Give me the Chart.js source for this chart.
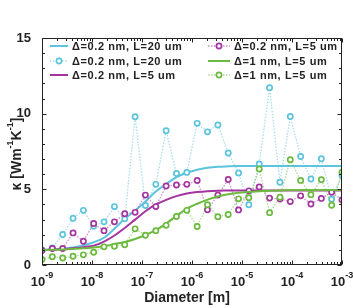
<!DOCTYPE html>
<html>
<head>
<meta charset="utf-8">
<script src="https://cdn.jsdelivr.net/npm/chart.js@4/dist/chart.umd.min.js"></script>
<style>
  html, body { margin: 0; padding: 0; background: #fff; }
</style>
</head>
<body>
<canvas id="myChart" width="353" height="308"></canvas>
<script>
// diameter of the sample points [m] (30 points from 1e-9 to 1e-3)
const diameters = [1.00e-9, 1.61e-9, 2.59e-9, 4.18e-9, 6.72e-9, 1.08e-8, 1.74e-8, 2.81e-8, 4.52e-8, 7.28e-8,
                   1.17e-7, 1.89e-7, 3.04e-7, 4.89e-7, 7.88e-7, 1.27e-6, 2.04e-6, 3.29e-6, 5.30e-6, 8.53e-6,
                   1.37e-5, 2.21e-5, 3.56e-5, 5.74e-5, 9.24e-5, 1.49e-4, 2.39e-4, 3.86e-4, 6.21e-4, 1.00e-3];

// smooth curves
const cyanFit    = [1.00, 1.03, 1.08, 1.16, 1.30, 1.50, 1.80, 2.40, 3.05, 3.60, 4.20, 4.85, 5.35, 5.80, 6.10,
                    6.30, 6.42, 6.49, 6.52, 6.54, 6.55, 6.55, 6.55, 6.55, 6.55, 6.55, 6.55, 6.55, 6.55, 6.55];
const magentaFit = [0.98, 1.00, 1.04, 1.10, 1.18, 1.28, 1.55, 1.95, 2.45, 3.00, 3.55, 4.00, 4.30, 4.55, 4.72,
                    4.82, 4.88, 4.91, 4.92, 4.93, 4.93, 4.93, 4.93, 4.93, 4.93, 4.93, 4.93, 4.93, 4.93, 4.93];
const greenFit   = [0.98, 1.00, 1.02, 1.05, 1.10, 1.15, 1.25, 1.38, 1.52, 1.72, 1.98, 2.30, 2.75, 3.25, 3.72,
                    4.05, 4.32, 4.53, 4.68, 4.78, 4.83, 4.88, 4.91, 4.93, 4.95, 4.95, 4.95, 4.95, 4.95, 4.95];

// scattered points (dotted)
const cyanPts    = [1.00, 1.13, 2.02, 3.09, 3.61, 2.56, 2.85, 3.86, 3.05, 9.80, 3.93, 5.33, 8.87, 6.05, 6.12,
                    9.36, 8.80, 9.25, 7.40, 6.08, 3.98, 6.68, 11.72, 5.47, 9.81, 7.17, 5.68, 7.02, 4.35, 5.91];
const magentaPts = [0.96, 1.09, 1.09, 2.12, 1.57, 2.74, 2.27, 2.85, 3.39, 3.48, 4.62, 3.86, 5.22, 5.29, 5.33,
                    5.58, 3.65, 4.62, 5.65, 3.64, 4.90, 5.15, 4.42, 4.36, 4.19, 4.57, 4.03, 4.40, 4.80, 4.30];
const greenPts   = [0.36, 0.55, 0.46, 0.58, 0.67, 0.84, 1.20, 1.24, 1.33, 2.39, 1.97, 2.27, 2.62, 3.20, 3.61,
                    2.54, 3.98, 3.19, 3.34, 4.37, 4.45, 6.35, 3.46, 4.48, 6.95, 5.59, 4.65, 5.64, 3.95, 6.13];

const xTickExp = [-9, -8, -7, -6, -5, -4, -3];
const yTicks = [0, 5, 10, 15];

const CYAN = 'rgb(92,196,220)';
const MAGENTA = 'rgb(163,52,160)';
const GREEN = 'rgb(108,186,62)';
const FONT = "'Liberation Sans', Arial, sans-serif";
const INK = '#222';

function pairs(vals) {
  return vals.map((v, i) => ({x: diameters[i], y: v}));
}

function fitLine(label, vals, color) {
  return {
    label: label, data: pairs(vals), borderColor: color, borderWidth: 2,
    pointRadius: 0, cubicInterpolationMode: 'monotone', fill: false, dotted: false
  };
}

function dotLine(label, vals, color) {
  return {
    label: label, data: pairs(vals), borderColor: color.replace('rgb', 'rgba').replace(')', ',0.55)'),
    borderWidth: 1.3, borderDash: [1.5, 1.5], pointRadius: 2.6, pointBorderWidth: 1.7,
    pointBorderColor: color, pointBackgroundColor: '#fff', fill: false, dotted: true
  };
}

const datasets = [
  fitLine('Δ=0.2 nm, L=20 um', cyanFit, CYAN),
  dotLine('Δ=0.2 nm, L=20 um', cyanPts, CYAN),
  fitLine('Δ=0.2 nm, L=5 um', magentaFit, MAGENTA),
  dotLine('Δ=0.2 nm, L=5 um', magentaPts, MAGENTA),
  fitLine('Δ=1 nm, L=5 um', greenFit, GREEN),
  dotLine('Δ=1 nm, L=5 um', greenPts, GREEN)
];
datasets.forEach((d, i) => { d.order = 6 - i; });

// box, inward ticks, x labels with exponents, y title and legend
const decorations = {
  id: 'decorations',
  afterDraw(chart) {
    const {ctx, chartArea: a, scales: {x, y}} = chart;
    ctx.save();
    ctx.strokeStyle = INK;
    ctx.lineWidth = 1;
    const L = Math.round(a.left) + 0.5, R = Math.round(a.right) - 0.5;
    const T = Math.round(a.top) + 0.5, B = Math.round(a.bottom) - 0.5;
    ctx.strokeRect(L, T, R - L, B - T);

    ctx.beginPath();
    for (let e = -9; e <= -3; e++) {
      for (let k = 1; k <= 9; k++) {
        if (e === -3 && k > 1) break;
        const px = Math.round(x.getPixelForValue(k * Math.pow(10, e))) + 0.5;
        const len = k === 1 ? 4 : 2.5;
        ctx.moveTo(px, B); ctx.lineTo(px, B - len);
        ctx.moveTo(px, T); ctx.lineTo(px, T + len);
      }
    }
    for (let v = 0; v <= 15; v++) {
      const py = Math.round(y.getPixelForValue(v)) + 0.5;
      const len = v % 5 === 0 ? 4 : 2.5;
      ctx.moveTo(L, py); ctx.lineTo(L + len, py);
      ctx.moveTo(R, py); ctx.lineTo(R - len, py);
    }
    ctx.stroke();

    // x tick labels 10^n
    ctx.fillStyle = INK;
    ctx.textBaseline = 'alphabetic';
    xTickExp.forEach(e => {
      const px = x.getPixelForValue(Math.pow(10, e));
      ctx.font = 'bold 13px ' + FONT;
      const w1 = ctx.measureText('10').width;
      ctx.font = 'bold 9px ' + FONT;
      const w2 = ctx.measureText(String(e)).width;
      const x0 = px - (w1 + w2) / 2;
      ctx.font = 'bold 13px ' + FONT;
      ctx.textAlign = 'left';
      ctx.fillText('10', x0, 286);
      ctx.font = 'bold 9px ' + FONT;
      ctx.fillText(String(e), x0 + w1, 278);
    });

    // x title
    ctx.font = 'bold 14px ' + FONT;
    ctx.textAlign = 'center';
    ctx.fillText('Diameter [m]', 187, 302);

    // y title with superscripts
    const parts = [['κ [Wm', 14, 0], ['-1', 9, -8], ['K', 14, 0], ['-1', 9, -8], [']', 14, 0]];
    let total = 0;
    parts.forEach(p => { ctx.font = 'bold ' + p[1] + 'px ' + FONT; total += ctx.measureText(p[0]).width; });
    ctx.translate(21, 154);
    ctx.rotate(-Math.PI / 2);
    ctx.textAlign = 'left';
    let cx = -total / 2;
    parts.forEach(p => {
      ctx.font = 'bold ' + p[1] + 'px ' + FONT;
      ctx.fillText(p[0], cx, p[2]);
      cx += ctx.measureText(p[0]).width;
    });
    ctx.restore();

    // legend, two columns filled top to bottom
    ctx.save();
    const cols = [{x0: 50, x1: 68, tx: 72}, {x0: 208, x1: 230, tx: 234}];
    const rows = [46, 61, 75];
    ctx.font = 'bold 11px ' + FONT;
    ctx.letterSpacing = '0.6px';
    ctx.textBaseline = 'middle';
    ctx.textAlign = 'left';
    chart.data.datasets.forEach((d, i) => {
      const c = cols[Math.floor(i / 3)], ry = rows[i % 3];
      ctx.beginPath();
      ctx.strokeStyle = d.borderColor;
      ctx.lineWidth = d.borderWidth;
      ctx.setLineDash(d.dotted ? d.borderDash : []);
      ctx.moveTo(c.x0, ry); ctx.lineTo(c.x1, ry);
      ctx.stroke();
      ctx.setLineDash([]);
      if (d.dotted) {
        ctx.beginPath();
        ctx.arc((c.x0 + c.x1) / 2, ry, d.pointRadius, 0, Math.PI * 2);
        ctx.fillStyle = '#fff';
        ctx.fill();
        ctx.strokeStyle = d.pointBorderColor;
        ctx.lineWidth = d.pointBorderWidth;
        ctx.stroke();
      }
      ctx.fillStyle = INK;
      ctx.fillText(d.label, c.tx, ry + 0.5);
    });
    ctx.restore();
  }
};

const ctx = document.getElementById('myChart').getContext('2d');
const myChart = new Chart(ctx, {
  type: 'line',
  data: { datasets: datasets },
  options: {
    responsive: false,
    animation: false,
    layout: { padding: { top: 38, right: 11, left: 0, bottom: 0 } },
    plugins: { legend: { display: false }, tooltip: { enabled: false } },
    scales: {
      x: {
        type: 'logarithmic', min: 1e-9, max: 1e-3,
        grid: { display: false }, border: { display: false },
        ticks: { display: false },
        afterFit: s => { s.height = 43; }
      },
      y: {
        min: 0, max: 15,
        grid: { display: false }, border: { display: false },
        afterBuildTicks: s => { s.ticks = yTicks.map(v => ({value: v})); },
        ticks: { color: INK, padding: 3, font: { family: FONT, size: 13, weight: 'bold' } },
        afterFit: s => { s.width = 42; }
      }
    }
  },
  plugins: [decorations]
});
</script>
</body>
</html>
